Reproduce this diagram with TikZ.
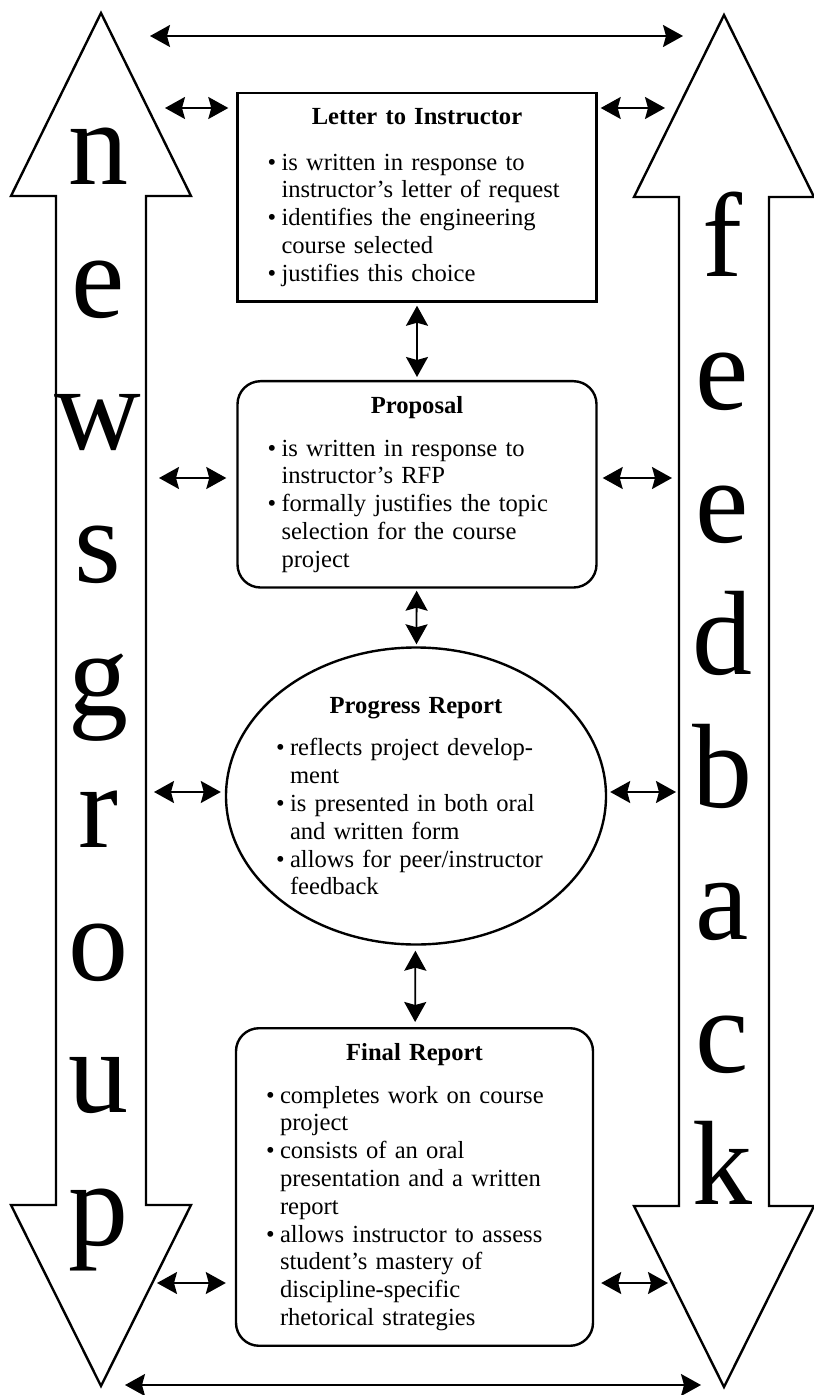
\documentclass[tikz,border=0pt]{standalone}
\usepackage{fontspec}
\setmainfont{Liberation Serif}
\usetikzlibrary{arrows.meta,shapes.geometric}
\newcommand{\bodyfont}{\fontsize{12.3}{13.9}\selectfont}
\newcommand{\bul}{\makebox[7pt][l]{\textbullet}}
\newcommand{\cont}{\hspace*{7pt}}
\tikzset{
    box style/.style={draw,line width=1.2pt,text width=149.5pt,inner xsep=15pt,inner ysep=7.5pt,font=\bodyfont,anchor=north},
    box style round/.style={box style,rounded corners=11.5pt},
    big arrow/.style={draw,line width=1.2pt,line join=miter},
    big letter/.style={font=\fontsize{60}{60}\selectfont,anchor=base},
    link/.style={line width=0.9pt,{Stealth[length=10pt,width=11pt,inset=1.5pt]}-{Stealth[length=10pt,width=11pt,inset=1.5pt]}},
}

\begin{document}
\begin{tikzpicture}[x=0.5pt,y=-0.5pt]
\useasboundingbox (0,0) rectangle (813,1395);

% the two big double arrows
\draw [big arrow] (101,13) -- (191,196) -- (146,196) -- (146,1205) -- (191,1205)
    -- (101,1386) -- (11,1205) -- (56,1205) -- (56,196) -- (11,196) -- cycle;
\draw [big arrow] (724,15) -- (814,197) -- (769,197) -- (769,1206) -- (814,1206)
    -- (724,1387) -- (634,1206) -- (679,1206) -- (679,197) -- (634,197) -- cycle;

\foreach \c [count=\i from 0] in {n,e,w,s,g,r,o,u,p}
    \node [big letter] (ng\i) at (98,185+132.5*\i) {\c};
\foreach \c [count=\i from 0] in {f,e,e,d,b,a,c,k}
    \node [big letter] (fb\i) at (722,277+132.5*\i) {\c};

% the four documents
\node [box style] (letter) at (417,92)
    {\centering\textbf{Letter to Instructor}\par\vspace{9pt}\raggedright
     \bul is written in response to\\
     \cont instructor's letter of request\\
     \bul identifies the engineering\\
     \cont course selected\\
     \bul justifies this choice};
\node [box style round] (proposal) at (417,380)
    {\centering\textbf{Proposal}\par\vspace{7.5pt}\raggedright
     \bul is written in response to\\
     \cont instructor's RFP\\
     \bul formally justifies the topic\\
     \cont selection for the course\\
     \cont project};
\node [ellipse,draw,line width=1.2pt,minimum width=190pt,minimum height=148.5pt,
       text width=140pt,inner xsep=-6pt,inner ysep=0pt,font=\bodyfont] (progress) at (416,796)
    {\centering\textbf{Progress Report}\par\vspace{7.5pt}\raggedright
     \bul reflects project develop-\\
     \cont ment\\
     \bul is presented in both oral\\
     \cont and written form\\
     \bul allows for peer/instructor\\
     \cont feedback};
\node [box style round,text width=148.5pt] (final) at (414.5,1027)
    {\centering\textbf{Final Report}\par\vspace{7.5pt}\raggedright
     \bul completes work on course\\
     \cont project\\
     \bul consists of an oral\\
     \cont presentation and a written\\
     \cont report\\
     \bul allows instructor to assess\\
     \cont student's mastery of\\
     \cont discipline-specific\\
     \cont rhetorical strategies};

% ends on the big arrows
\coordinate (ntop) at (150,36);
\coordinate (ftop) at (683,36);
\coordinate (nbot) at (125,1385);
\coordinate (fbot) at (701,1385);
\coordinate (nl) at (165,108);
\coordinate (fl) at (665,108);
\coordinate (np) at (159,478);
\coordinate (fp) at (672,478);
\coordinate (nr) at (154,792);
\coordinate (fr) at (676,792);
\coordinate (nf) at (157,1283);
\coordinate (ff) at (668,1283);

\draw [link] (ntop) -- (ftop);
\draw [link] (nbot) -- (fbot);

\draw [link,shorten >=4pt] (nl) -- (letter.west |- nl);
\draw [link,shorten <=1.5pt] (letter.east |- fl) -- (fl);
\draw [link,shorten >=5pt] (np) -- (proposal.west |- np);
\draw [link,shorten <=2.5pt] (proposal.east |- fp) -- (fp);
\draw [link,shorten >=2pt] (nr) -- (progress.west |- nr);
\draw [link,shorten <=1.5pt] (progress.east |- fr) -- (fr);
\draw [link,shorten >=4.5pt] (nf) -- (final.west |- nf);
\draw [link,shorten <=3.5pt] (final.east |- ff) -- (ff);

\draw [link,shorten <=1.5pt,shorten >=1.5pt] (letter) -- (proposal);
\draw [link,shorten <=1pt,shorten >=1pt] (proposal) -- (progress);
\draw [link,shorten <=2.5pt,shorten >=2.5pt] (progress) -- (final);

\end{tikzpicture}
\end{document}
